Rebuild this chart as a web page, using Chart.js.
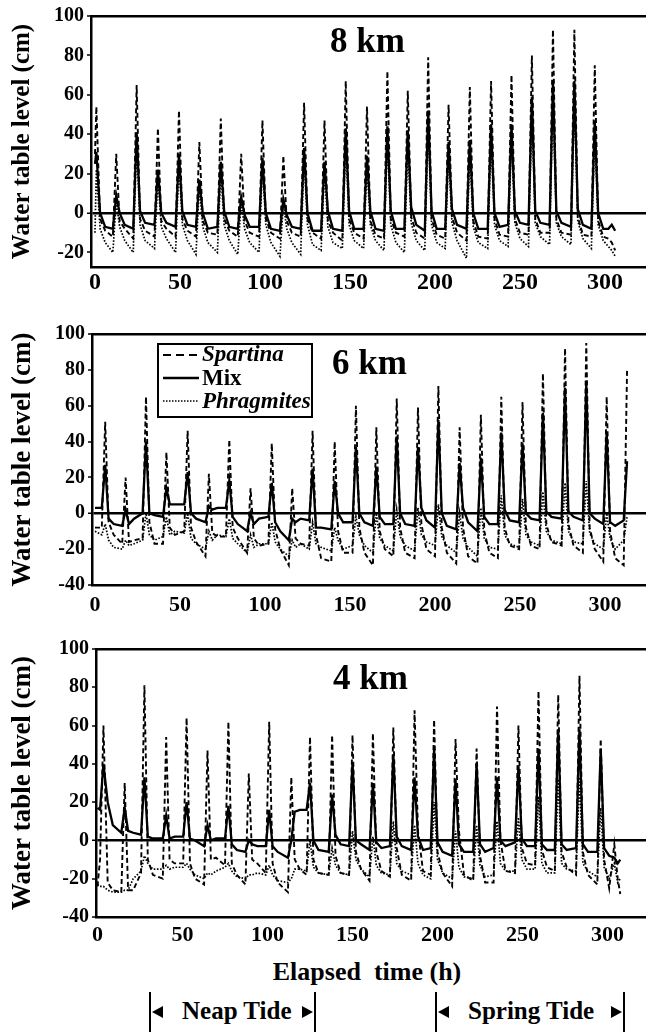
<!DOCTYPE html>
<html><head><meta charset="utf-8">
<script src="https://cdn.jsdelivr.net/npm/chart.js@4.4.1/dist/chart.umd.min.js"></script>
<style>
html,body{margin:0;padding:0;width:646px;height:1032px;overflow:hidden;background:#fff;}
body{position:relative;font-family:"Liberation Serif","Times New Roman",serif;font-weight:bold;color:#000;}
canvas{position:absolute;left:0;}
.lbl{position:absolute;white-space:pre;line-height:1;z-index:5;}
.bar{position:absolute;width:2px;background:#000;top:992px;height:40px;z-index:5;}
.tl{position:absolute;width:0;height:0;border-top:6px solid transparent;border-bottom:6px solid transparent;border-right:11px solid #000;top:1006px;z-index:5;}
.tr{position:absolute;width:0;height:0;border-top:6px solid transparent;border-bottom:6px solid transparent;border-left:11px solid #000;top:1006px;z-index:5;}
#legend{position:absolute;left:157px;top:343px;width:152px;height:71px;border:2px solid #000;background:#fff;z-index:5;}
#legend .t{position:absolute;left:43px;font-size:23px;line-height:1;white-space:pre;}
</style></head>
<body>
<canvas id="c8" width="700" height="300" style="top:0px;width:700px;height:300px"></canvas>
<canvas id="c6" width="700" height="320" style="top:300px;width:700px;height:320px"></canvas>
<canvas id="c4" width="700" height="330" style="top:620px;width:700px;height:330px"></canvas>

<div class="lbl" style="left:330px;top:23px;font-size:35px">8 km</div>
<div class="lbl" style="left:332px;top:345px;font-size:35px">6 km</div>
<div class="lbl" style="left:333px;top:660px;font-size:35px">4 km</div>

<div id="legend">
  <svg width="40" height="71" style="position:absolute;left:2px;top:0">
    <line x1="2" y1="10" x2="38" y2="10" stroke="#000" stroke-width="1.8" stroke-dasharray="8 5"/>
    <line x1="2" y1="33" x2="38" y2="33" stroke="#000" stroke-width="2.4"/>
    <line x1="2" y1="56" x2="38" y2="56" stroke="#000" stroke-width="1.5" stroke-dasharray="1.5 1.5"/>
  </svg>
  <div class="t" style="top:-3px;font-style:italic">Spartina</div>
  <div class="t" style="top:21px">Mix</div>
  <div class="t" style="top:44px;font-style:italic">Phragmites</div>
</div>

<div class="lbl" style="left:367px;top:959px;font-size:26px;transform:translateX(-50%)">Elapsed  time (h)</div>
<div class="bar" style="left:149px"></div>
<div class="tl" style="left:152px"></div>
<div class="lbl" style="left:182px;top:998px;font-size:25px">Neap Tide</div>
<div class="tr" style="left:302px"></div>
<div class="bar" style="left:314px"></div>
<div class="bar" style="left:435px"></div>
<div class="tl" style="left:438px"></div>
<div class="lbl" style="left:468px;top:998px;font-size:25px">Spring Tide</div>
<div class="tr" style="left:611px"></div>
<div class="bar" style="left:623px"></div>

<script>
// ---------- tick labels ----------
const xTickValues = [0, 50, 100, 150, 200, 250, 300];
const yTicks8 = [-20, 0, 20, 40, 60, 80, 100];
const yTicks6 = [-40, -20, 0, 20, 40, 60, 80, 100];
const yTicks4 = [-40, -20, 0, 20, 40, 60, 80, 100];

// ---------- 8 km ----------
const t8 = [0,0.8,3,6, 10.5,12.5,14.5,17.5, 22.5,24.5,26.5,29.5, 35,37,39,42, 47.4,49.4,51.4,54.4, 59.4,61.4,63.4,66.4, 72,74,76,79, 84,86,88,91, 96.5,98.5,100.5,103.5, 108.8,110.8,112.8,115.8, 121,123,125,128, 133,135,137,140, 145.5,147.5,149.5,152.5, 158,160,162,165, 170,172,174,177, 182,184,186,189, 194,196,198,201, 206,208,210,213, 218.5,220.5,222.5,225.5, 231,233,235,238, 243,245,247,250, 255,257,259,262, 267.4,269.4,271.4,274.4, 280,282,284,287, 292,294,296,299, 302,304,306];
const spartina8 = [30,54,-3,-9, -12,30,-4,-8, -13,65,-3,-9, -12,43,-4,-8, -12,52,-3,-9, -12,36,-4,-10, -11,48,-3,-9, -12,30,-4,-10, -12,47,-3,-10, -13,29,-4,-10, -12,56,-3,-10, -13,47,-4,-10, -14,67,-3,-10, -13,54,-4,-11, -13,72,-3,-10, -12,62,-2,-10, -13,79,-3,-11, -13,55,-2,-10, -14,64,-4,-12, -13,67,-3,-11, -12,70,-3,-10, -11,80,-3,-10, -10,93,-3,-10, -11,93,-2,-11, -12,75,-4,-12, -13,-15,-19];
const mix8 = [25,31,0,-7, -8,9,0,-6, -8,41,1,-5, -6,22,0,-5, -7,30,1,-6, -7,17,0,-8, -7,26,1,-7, -8,8,-1,-7, -7,28,0,-8, -9,7,-1,-7, -8,33,0,-9, -9,26,1,-8, -9,43,1,-8, -8,29,1,-8, -9,44,1,-8, -8,42,3,-6, -9,52,1,-8, -8,36,2,-6, -8,37,0,-8, -8,45,0,-7, -6,45,1,-5, -6,59,1,-5, -6,67,1,-5, -7,67,2,-6, -8,47,0,-8, -8,-6,-9];
const phrag8 = [-10,22,-8,-15, -20,6,-7,-14, -20,35,-6,-14, -18,18,-7,-13, -20,26,-6,-14, -21,14,-7,-15, -20,22,-6,-14, -21,6,-8,-15, -20,24,-6,-15, -22,5,-8,-15, -21,28,-6,-16, -19,22,-7,-15, -18,36,-6,-14, -18,24,-6,-14, -19,38,-6,-15, -20,34,-5,-14, -19,44,-6,-15, -18,30,-5,-14, -23,32,-7,-15, -18,38,-6,-14, -17,38,-5,-13, -17,50,-5,-12, -16,58,-5,-12, -16,58,-4,-13, -18,40,-6,-14, -17,-19,-22];

// ---------- 6 km ----------
const t6 = [0, 4,6,8,11, 16,18,20,23, 28,30,32,35, 40,42,44,47, 52.5,54.5,56.5,59.5, 65,67,69,72, 77,79,81,84, 89.5,91.5,93.5,96.5, 102,104,106,109, 114,116,118,121, 126,128,130,133, 139,141,143,146, 151.5,153.5,155.5,158.5, 163.5,165.5,167.5,170.5, 175.5,177.5,179.5,182.5, 188,190,192,195, 200,202,204,207, 212.5,214.5,216.5,219.5, 225,227,229,232, 237,239,241,244, 249.5,251.5,253.5,256.5, 261.5,263.5,265.5,268.5, 274.5,276.5,278.5,281.5, 287,289,291,294, 299,301,303,306, 311,313];
const spartina6 = [-8, -8,51,-5,-12, -17,20,-16,-15, -14,65,-5,-17, -17,34,-8,-12, -10,46,-8,-16, -24,22,-11,-13, -13,41,-8,-14, -22,14,-14,-18, -17,39,-9,-20, -29,14,-14,-17, -18,46,-12,-25, -27,40,-10,-22, -22,60,-8,-22, -29,48,-10,-20, -24,64,-8,-22, -25,59,-6,-20, -24,71,-8,-22, -28,48,-8,-24, -28,55,-10,-22, -25,65,-8,-18, -20,62,-8,-18, -20,78,-6,-16, -18,92,-6,-18, -22,95,-8,-20, -27,65,-10,-25, -29,80];
const mix6 = [3, 3,27,-3,-6, -7,2,-6,-3, 0,40,0,-1, -2,14,5,5, 5,23,0,-3, -5,4,2,3, 3,18,-2,-6, -10,0,-6,-3, -2,17,-5,-10, -15,-3,-5,-3, -4,25,-8,-8, -9,18,0,-5, -5,37,0,-5, -7,26,-2,-6, -6,43,0,-6, -7,37,3,-4, -8,52,0,-7, -9,28,3,-5, -10,31,-2,-6, -6,45,2,-4, -5,39,0,-3, -4,56,1,-2, -3,70,1,-2, -4,72,0,-3, -6,45,-5,-7, -4,29];
const phrag6 = [-10, -12,-6,-15,-19, -20,-15,-18,-17, -15,0,-12,-15, -13,-2,-12,-10, -11,0,-14,-17, -20,-10,-15,-12, -13,-3,-14,-17, -22,-12,-19,-17, -17,-5,-16,-20, -24,-15,-19,-17, -20,-5,-17,-19, -21,-8,-15,-20, -18,-2,-12,-18, -22,0,-14,-18, -21,2,-13,-18, -21,3,-12,-16, -18,5,-13,-18, -22,0,-14,-19, -24,3,-14,-19, -20,10,-12,-17, -19,8,-12,-16, -18,12,-10,-15, -17,17,-10,-16, -17,18,-11,-17, -20,0,-14,-20, -15,-2];

// ---------- 4 km ----------
const t4 = [0,1.5,3.5,6,9, 14,16,18,21, 25.6,27.6,29.6,32.6, 38.4,40.4,42.4,45.4, 50.4,52.4,54.4,57.4, 62.7,64.7,66.7,69.7, 75,77,79,82, 87,89,91,94, 99,101,103,106, 112,114,116,119, 123,125,127,130, 136,138,140,143, 148,150,152,155, 160,162,164,167, 172,174,176,179, 184.5,186.5,188.5,191.5, 196,198,200,203, 208.6,210.6,212.6,215.6, 221,223,225,228, 233,235,237,240, 245.6,247.6,249.6,252.6, 257.4,259.4,261.4,264.4, 269,271,273,276, 281.5,283.5,285.5,288.5, 294,296,298,301, 304,306,307.5];
const spartina4 = [-24,-10,60,-22,-26, -27,30,-26,-26, -17,81,-10,-18, -20,54,-10,-12, -12,64,-12,-20, -23,47,-10,-9, -13,62,-12,-18, -23,35,-10,-12, -17,62,-12,-22, -27,33,-10,-15, -18,54,-10,-17, -18,55,-8,-17, -18,55,-6,-15, -21,56,-6,-16, -19,59,-4,-18, -21,68,5,-16, -18,63,-6,-17, -24,53,5,-18, -21,48,-8,-22, -22,70,0,-16, -17,60,-4,-12, -13,78,-5,-14, -16,76,-6,-14, -18,86,-6,-18, -23,53,-10,-25, -2,-20,-28];
const mix4 = [17,16,40,20,8, 4,17,5,4, 3,33,2,1, 1,13,1,2, 2,20,1,0, -3,8,0,1, 1,18,-2,-5, -6,0,-2,-3, -3,16,-3,-6, -9,0,15,16, 16,30,0,-5, -6,24,3,-2, -3,41,0,-2, -5,30,-1,-4, -3,45,2,-3, -5,33,2,-5, -4,48,-1,-6, -8,32,-2,-6, -6,40,-2,-6, -4,33,0,-3, -1,39,1,-3, -3,48,-2,-5, -5,58,-2,-5, -4,58,-2,-6, -6,48,-4,-8, -9,-12,-10];
const phrag4 = [-23,-24,-24,-26,-27, -27,-26,-26,-20, -16,-8,-12,-15, -15,-13,-15,-14, -14,-12,-15,-18, -20,-17,-18,-16, -14,-12,-16,-19, -20,-18,-18,-17, -18,-13,-18,-21, -22,-20,-15,-15, -16,0,-14,-17, -18,-4,-13,-17, -18,5,-10,-15, -19,2,-13,-17, -18,10,-12,-16, -18,8,-12,-18, -20,20,-10,-17, -20,5,-14,-19, -20,8,-13,-19, -18,10,-12,-16, -16,12,-10,-15, -15,23,-12,-17, -17,32,-12,-15, -16,33,-12,-16, -19,17,-14,-20, -12,-22,-20];

const FONT = '"Liberation Serif","Times New Roman",serif';

function makePanel(id, L, t, sp, mx, ph, yTicks) {
  const pts = vals => t.map((x, i) => ({x: x, y: vals[i]}));
  const common = {pointRadius: 0, tension: 0, fill: false, borderColor: '#000', spanGaps: true};
  new Chart(document.getElementById(id), {
    type: 'line',
    data: {datasets: [
      Object.assign({label: 'Mix', data: pts(mx), borderWidth: 2.3}, common),
      Object.assign({label: 'Spartina', data: pts(sp), borderWidth: 1.9, borderDash: [5, 3]}, common),
      Object.assign({label: 'Phragmites', data: pts(ph), borderWidth: 1.7, borderDash: [1.6, 1.6]}, common)
    ]},
    options: {
      responsive: false, animation: false, devicePixelRatio: 1,
      layout: {padding: 0},
      plugins: {legend: {display: false}, tooltip: {enabled: false}},
      scales: {
        x: {
          type: 'linear', position: 'bottom', min: L.xmin, max: L.xmax,
          afterBuildTicks: s => { s.ticks = xTickValues.map(v => ({value: v})); },
          afterFit: s => { s.height = L.h - L.bottom; },
          grid: {display: false, drawTicks: false},
          border: {display: true, color: '#000', width: 2.5},
          ticks: {color: '#000', font: {family: FONT, size: L.xFont, weight: 'bold'}, padding: L.xPad, maxRotation: 0, autoSkip: false}
        },
        xTop: {
          type: 'linear', position: 'top', min: L.xmin, max: L.xmax,
          afterFit: s => { s.height = L.top; },
          grid: {display: false, drawTicks: false},
          border: {display: true, color: '#000', width: 2.5},
          ticks: {display: false}
        },
        y: {
          type: 'linear', position: 'left', min: L.ymin, max: 100,
          afterBuildTicks: s => { s.ticks = yTicks.map(v => ({value: v})); },
          afterFit: s => { s.width = L.left; },
          grid: {display: true, drawOnChartArea: true, color: '#000',
                 lineWidth: c => (c.tick && c.tick.value === 0) ? 2.5 : 0,
                 drawTicks: true, tickLength: 4, tickWidth: 1.5, tickColor: '#000'},
          border: {display: true, color: '#000', width: 2.5},
          ticks: {color: '#000', font: {family: FONT, size: 20, weight: 'bold'}, padding: 3, autoSkip: false},
          title: {display: true, text: 'Water table level (cm)', color: '#000',
                  font: {family: FONT, size: L.titleSize, weight: 'bold'}, padding: {top: L.titlePad, bottom: 0}}
        }
      }
    }
  });
}

makePanel('c8', {h: 300, top: 16, bottom: 267, left: 91, xmin: -2.35, xmax: 355.9, ymin: -27.4, xFont: 24, xPad: 1, titleSize: 25, titlePad: 8}, t8, spartina8, mix8, phrag8, yTicks8);
makePanel('c6', {h: 320, top: 34, bottom: 285, left: 92, xmin: -1.76, xmax: 355.9, ymin: -40, xFont: 22, xPad: 7, titleSize: 27, titlePad: 7}, t6, spartina6, mix6, phrag6, yTicks6);
makePanel('c4', {h: 330, top: 29, bottom: 297, left: 96, xmin: -0.88, xmax: 354.4, ymin: -40, xFont: 22, xPad: 5, titleSize: 27, titlePad: 7}, t4, spartina4, mix4, phrag4, yTicks4);
</script>
</body></html>
